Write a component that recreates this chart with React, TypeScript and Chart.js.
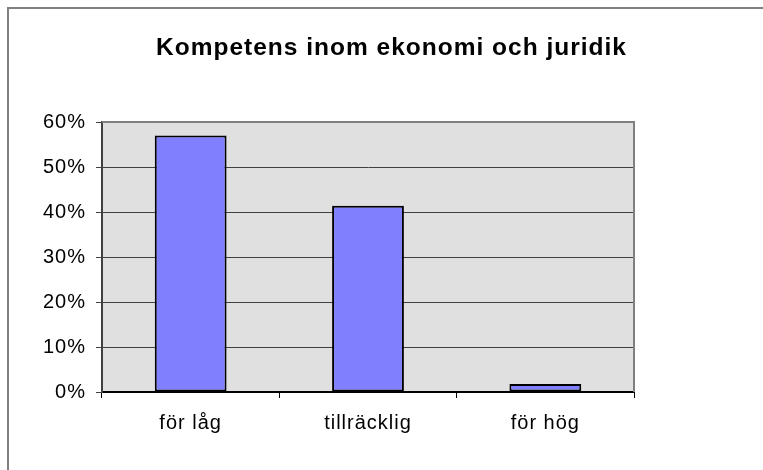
import React, { useEffect, useRef } from 'react';
import { Chart, registerables } from 'chart.js';

Chart.register(...registerables);

const chartTitle = 'Kompetens inom ekonomi och juridik';
const categories = ['för låg', 'tillräcklig', 'för hög'];
const values = [57.0, 41.4, 1.8];
const yMin = 0;
const yMax = 60;
const yStep = 10;

const FONT = "'Liberation Sans', Arial, sans-serif";

const spacingPlugin = {
  id: 'spacingAndFrame',
  beforeLayout(c: any) {
    c.ctx.letterSpacing = '1px';
  },
  beforeDraw(c: any) {
    const ctx = c.ctx;
    ctx.letterSpacing = '1px';
    const a = c.chartArea;
    ctx.save();
    ctx.fillStyle = '#E0E0E0';
    ctx.fillRect(a.left, a.top, a.right - a.left, a.bottom - a.top);
    ctx.restore();
  },
  beforeDatasetsDraw(c: any) {
    const ctx = c.ctx;
    const a = c.chartArea;
    ctx.save();
    ctx.strokeStyle = '#808080';
    ctx.lineWidth = 2;
    ctx.beginPath();
    ctx.moveTo(a.left, a.top);
    ctx.lineTo(a.right, a.top);
    ctx.lineTo(a.right, a.bottom);
    ctx.stroke();
    ctx.restore();
  },
};

export default function App() {
  const ref = useRef<HTMLCanvasElement | null>(null);

  useEffect(() => {
    if (!ref.current) return;
    const chart = new Chart(ref.current, {
      type: 'bar',
      data: {
        labels: categories,
        datasets: [
          {
            data: values,
            backgroundColor: '#8080FF',
            borderColor: '#000000',
            borderWidth: 2,
            borderSkipped: false,
            categoryPercentage: 1,
            barPercentage: 0.405,
            yAxisID: 'y',
          },
        ],
      },
      options: {
        animation: false,
        responsive: false,
        devicePixelRatio: 1,
        layout: { padding: 0 },
        plugins: {
          legend: { display: false },
          tooltip: { enabled: false },
          title: {
            display: true,
            text: chartTitle,
            color: '#000',
            font: { family: FONT, size: 24.5, weight: 'bold' },
            padding: { top: 33.2, bottom: 59.4 },
          },
        },
        scales: {
          x: {
            offset: true,
            grid: {
              offset: true,
              drawOnChartArea: false,
              drawTicks: true,
              tickLength: 6,
              color: '#000',
              lineWidth: 1,
            },
            border: { display: true, color: '#000', width: 2 },
            ticks: {
              color: '#000',
              font: { family: FONT, size: 20 },
              padding: 13.4,
              maxRotation: 0,
            },
            afterFit(scale: any) {
              scale.height = 78;
            },
          },
          y: {
            min: yMin,
            max: yMax,
            grid: {
              color: '#404040',
              lineWidth: 1,
              tickLength: 6,
              drawTicks: true,
            },
            border: { display: true, color: '#404040', width: 2 },
            ticks: {
              stepSize: yStep,
              color: '#000',
              font: { family: FONT, size: 20 },
              padding: 10,
              callback: (v: any) => `${v}%`,
            },
            afterFit(scale: any) {
              scale.width = 102;
            },
          },
          yRight: {
            type: 'linear',
            position: 'right',
            min: yMin,
            max: yMax,
            grid: { display: false, drawTicks: false },
            border: { display: false },
            ticks: { display: false },
            afterFit(scale: any) {
              scale.width = 149;
            },
          },
        },
      },
      plugins: [spacingPlugin],
    } as any);
    return () => chart.destroy();
  }, []);

  return (
    <div
      style={{
        position: 'fixed',
        left: 0,
        top: 0,
        width: 763,
        height: 470,
        overflow: 'hidden',
        background: '#fff',
      }}
    >
      <div
        style={{
          position: 'absolute',
          left: 7,
          top: 7,
          width: 1000,
          height: 1000,
          border: '2px solid #808080',
          boxSizing: 'border-box',
        }}
      />
      <canvas
        ref={ref}
        width={783}
        height={470}
        style={{ position: 'absolute', left: 0, top: 0, display: 'block' }}
      />
    </div>
  );
}
